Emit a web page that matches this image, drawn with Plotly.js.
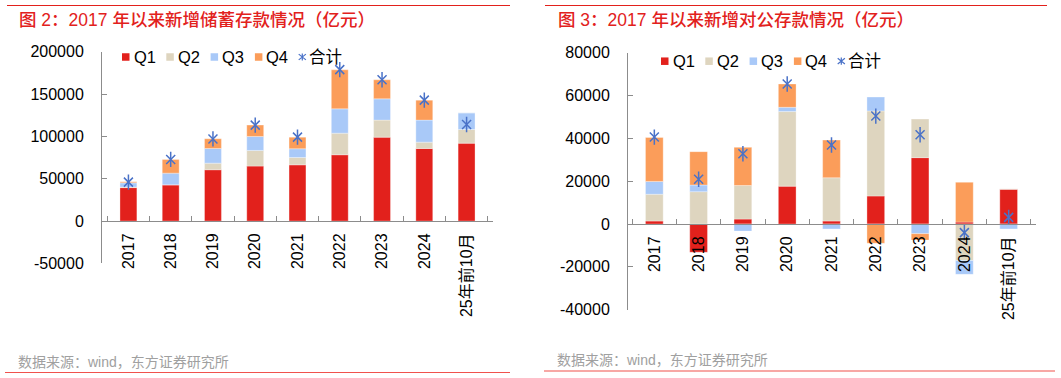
<!DOCTYPE html>
<html><head><meta charset="utf-8">
<script src="https://cdn.plot.ly/plotly-3.0.1.min.js"></script>
<style>html,body{margin:0;padding:0;background:#fff;}#chart{width:1061px;height:378px;}</style>
</head><body><div id="chart"></div>
<script>
// categories
const categories = ['2017','2018','2019','2020','2021','2022','2023','2024','25年前10月'];
// 新增储蓄存款 (亿元)
const savQ1 = [39500, 42800, 60600, 64900, 66400, 78300, 99100, 85700, 92000];
const savQ2 = [600, 0, 7800, 18500, 8700, 25500, 20100, 7500, 16200];
const savQ3 = [5000, 13800, 17300, 16500, 10300, 28700, 25100, 26000, 19600];
const savQ4 = [1300, 16200, 11500, 13400, 13700, 46100, 22500, 23600, 0];
const savTotal = [46000, 72800, 97000, 113300, 99100, 178800, 166800, 142800, 114100];
// 新增对公存款 (亿元)
const corQ1 = [1400, -13200, 2300, 17700, 1400, 13100, 31000, 900, 16200];
const corQ2 = [12500, 15100, 15700, 34800, 20200, 39700, 18000, -17000, 300];
const corQ3 = [6000, 3100, -3300, 2000, -2300, 6500, -4500, -6500, -2300];
const corQ4 = [20500, 15600, 17800, 10900, 17600, -9000, -3000, 18600, 0];
const corTotal = [40600, 20900, 32800, 65400, 36900, 50400, 41700, -4000, 3100];

const seriesNames = ['Q1','Q2','Q3','Q4'];
const totalName = '合计';
const colors = ['#E2211C','#DED5BF','#A9C9F8','#FB9D5A'];
const starColor = '#4A72C8';

const W = 1061, H = 378;
const FONT = 'Liberation Sans, Arial, Noto Sans CJK SC, sans-serif';
const CJK = 'Liberation Sans, Noto Sans CJK SC, sans-serif';

const leftRange = [-50000, 200000];
const rightRange = [-40000, 80000];
const leftDom = {x:[102/W, 493/W], y:[1-263.4/H, 1-51.7/H]};
const rightDom = {x:[627/W, 1036/W], y:[1-309.7/H, 1-52.7/H]};
function zeroPos(dom, r){ return dom.y[0] + (0 - r[0])/(r[1]-r[0])*(dom.y[1]-dom.y[0]); }

const traces = [];
function addChart(data, total, xa, ya){
  data.forEach((arr,i)=>{
    traces.push({type:'bar', x:categories, y:arr, name:seriesNames[i], xaxis:xa, yaxis:ya, showlegend:false,
      marker:{color:colors[i], line:{color:'rgba(255,255,255,0.4)', width:0.8}}});
  });
  traces.push({type:'scatter', mode:'markers', x:categories, y:total, name:totalName, xaxis:xa, yaxis:ya, showlegend:false,
    marker:{symbol:'x-thin-open', size:9, color:starColor, line:{color:starColor, width:1.5}}});
  traces.push({type:'scatter', mode:'markers', x:categories, y:total, name:totalName, xaxis:xa, yaxis:ya, showlegend:false,
    marker:{symbol:'line-ns-open', size:11, color:starColor, line:{color:starColor, width:1.5}}});
}
addChart([savQ1, savQ2, savQ3, savQ4], savTotal, 'x', 'y');
addChart([corQ1, corQ2, corQ3, corQ4], corTotal, 'x2', 'y2');

const axisCommon = {showgrid:false, zeroline:false, showline:true, linecolor:'#8c8c8c', linewidth:1,
  ticks:'inside', ticklen:5, tickcolor:'#8c8c8c', tickfont:{family:FONT, size:16, color:'#000'}};

const shapes = [
  {type:'line', xref:'paper', yref:'paper', x0:7/W, x1:510/W, y0:1-5.5/H, y1:1-5.5/H, line:{color:'#E2211C', width:1.2}},
  {type:'line', xref:'paper', yref:'paper', x0:545/W, x1:1047/W, y0:1-5.5/H, y1:1-5.5/H, line:{color:'#E2211C', width:1.2}},
  {type:'line', xref:'paper', yref:'paper', x0:5/W, x1:510/W, y0:1-372.5/H, y1:1-372.5/H, line:{color:'#F0524D', width:1.2}},
  {type:'line', xref:'paper', yref:'paper', x0:544/W, x1:1055/W, y0:1-371/H, y1:1-371/H, line:{color:'#F0524D', width:1.2}}
];
const annotations = [
  {text:'图 2：2017 年以来新增储蓄存款情况（亿元）', xref:'paper', yref:'paper', x:17/W, y:1-20/H, xanchor:'left', yanchor:'middle',
    showarrow:false, font:{family:CJK, size:17.5, color:'#E2211C', weight:500}},
  {text:'图 3：2017 年以来新增对公存款情况（亿元）', xref:'paper', yref:'paper', x:556/W, y:1-20/H, xanchor:'left', yanchor:'middle',
    showarrow:false, font:{family:CJK, size:17.5, color:'#E2211C', weight:500}},
  {text:'数据来源：wind，东方证券研究所', xref:'paper', yref:'paper', x:16/W, y:1-361.5/H, xanchor:'left', yanchor:'middle',
    showarrow:false, font:{family:CJK, size:14, color:'#A0A0A0'}},
  {text:'数据来源：wind，东方证券研究所', xref:'paper', yref:'paper', x:555/W, y:1-360/H, xanchor:'left', yanchor:'middle',
    showarrow:false, font:{family:CJK, size:14, color:'#A0A0A0'}}
];

// custom legends (squares + labels), px positions of each chart's legend
function addLegend(x0, yc){
  const step = 44.3, sq = 7.5;
  seriesNames.forEach((n,i)=>{
    const xs = x0 + i*step;
    shapes.push({type:'rect', xref:'paper', yref:'paper', x0:xs/W, x1:(xs+sq)/W, y0:1-(yc+sq/2)/H, y1:1-(yc-sq/2)/H,
      fillcolor:colors[i], line:{width:0}});
    annotations.push({text:n, xref:'paper', yref:'paper', x:(xs+sq+3)/W, y:1-yc/H, xanchor:'left', yanchor:'middle',
      showarrow:false, font:{family:FONT, size:16.5, color:'#000'}, borderpad:0});
  });
  const sx = x0 + 4*step - 0.5, r = 3.6;
  const c = sx + r;
  shapes.push({type:'path', xref:'paper', yref:'paper',
    path:`M ${c/W} ${1-(yc-r)/H} L ${c/W} ${1-(yc+r)/H} M ${(c-r)/W} ${1-(yc-r*0.8)/H} L ${(c+r)/W} ${1-(yc+r*0.8)/H} M ${(c-r)/W} ${1-(yc+r*0.8)/H} L ${(c+r)/W} ${1-(yc-r*0.8)/H}`,
    line:{color:starColor, width:1.2}});
  annotations.push({text:totalName, xref:'paper', yref:'paper', x:(sx+2*r+2.5)/W, y:1-yc/H, xanchor:'left', yanchor:'middle',
    showarrow:false, font:{family:CJK, size:16.5, color:'#000'}, borderpad:0});
}
addLegend(122, 57);
addLegend(661, 61.2);

const layout = {
  width:W, height:H, margin:{l:0,r:0,t:0,b:0}, paper_bgcolor:'#fff', plot_bgcolor:'rgba(0,0,0,0)',
  barmode:'relative', bargap:0.6, showlegend:false,
  font:{family:FONT, size:16, color:'#000'},
  xaxis: Object.assign({}, axisCommon, {domain:leftDom.x, anchor:'free', position:zeroPos(leftDom,leftRange),
    type:'category', tickson:'boundaries', tickangle:-90, ticklabelstandoff:5}),
  yaxis: Object.assign({}, axisCommon, {domain:leftDom.y, range:leftRange, tickvals:[-50000,0,50000,100000,150000,200000],
    ticktext:['-50000','0','50000','100000','150000','200000'], ticklabelstandoff:14}),
  xaxis2: Object.assign({}, axisCommon, {domain:rightDom.x, anchor:'free', position:zeroPos(rightDom,rightRange),
    type:'category', tickson:'boundaries', tickangle:-90, ticklabelstandoff:5}),
  yaxis2: Object.assign({}, axisCommon, {domain:rightDom.y, range:rightRange, anchor:'free', position:rightDom.x[0],
    tickvals:[-40000,-20000,0,20000,40000,60000,80000],
    ticktext:['-40000','-20000','0','20000','40000','60000','80000'], ticklabelstandoff:14}),
  shapes: shapes,
  annotations: annotations
};
Plotly.newPlot('chart', traces, layout, {displayModeBar:false, staticPlot:true});
</script></body></html>
